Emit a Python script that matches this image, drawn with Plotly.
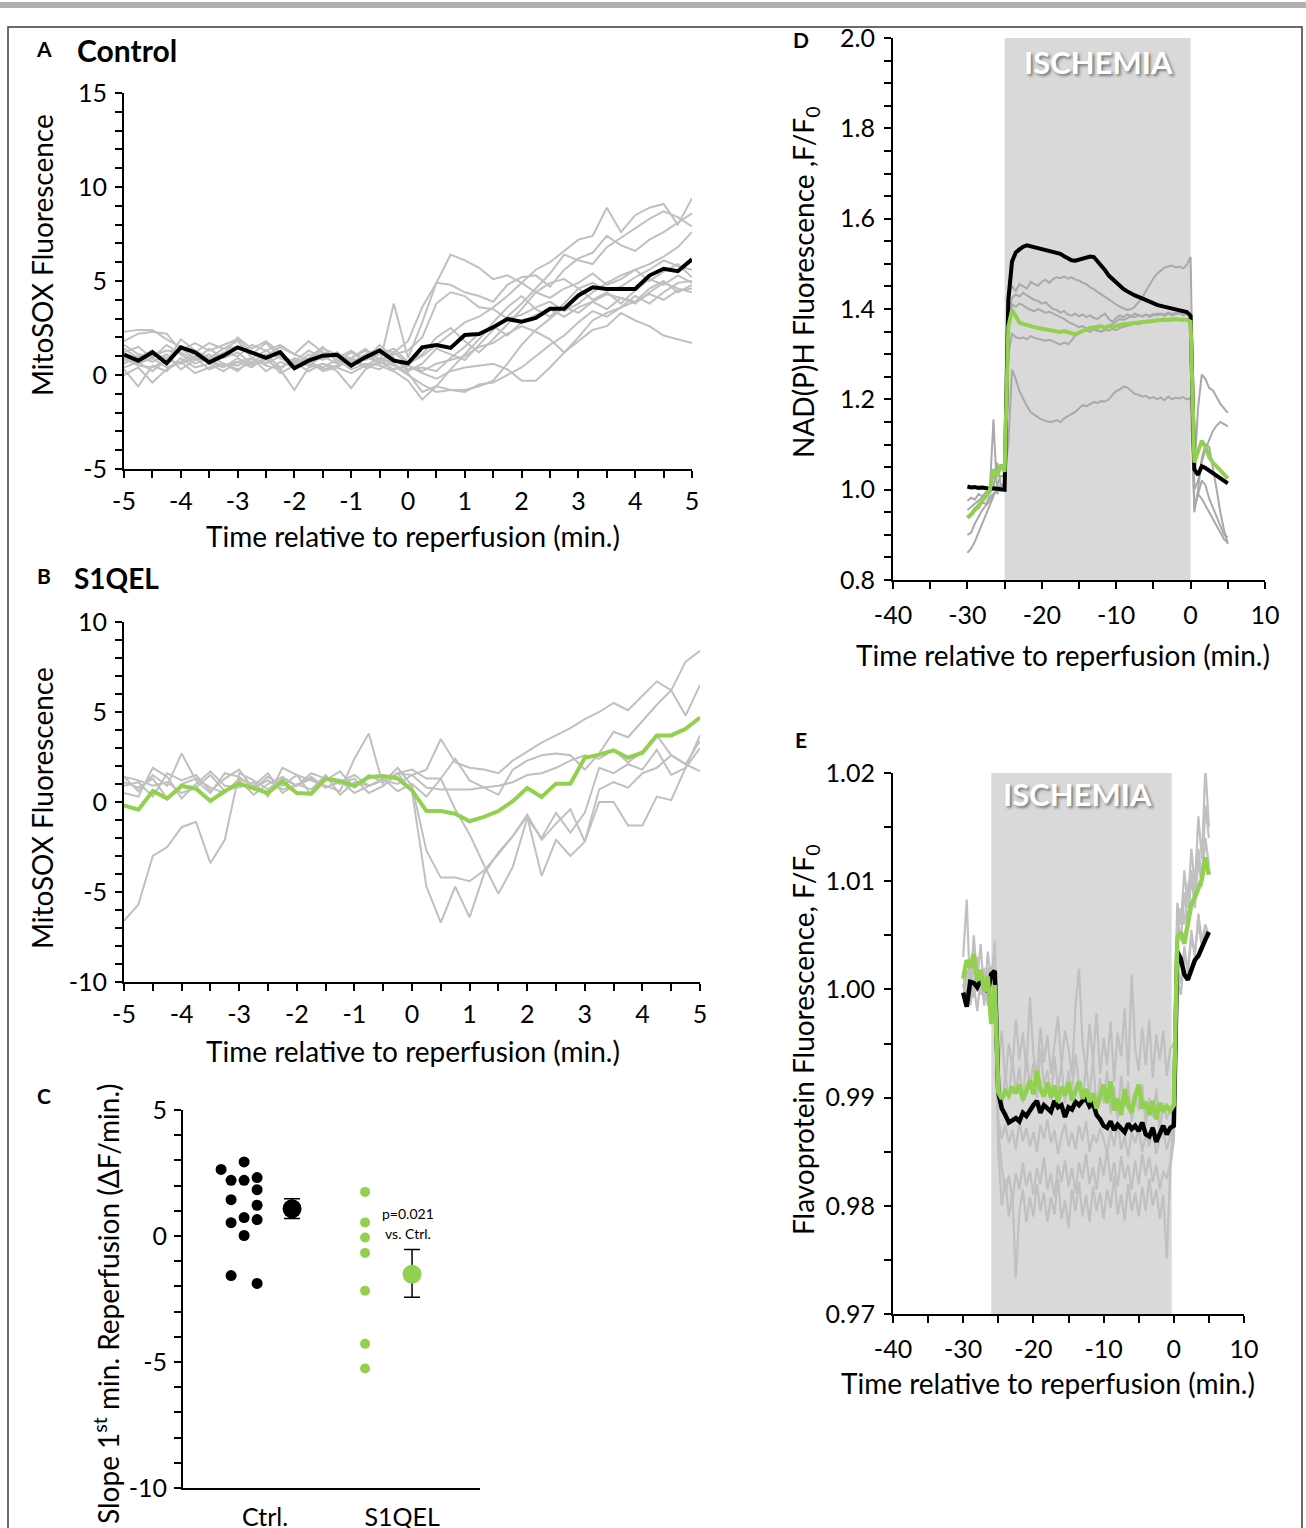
import numpy as np
import plotly.graph_objects as go

W, H = 1306, 1528
FONT = "Lato"
GREEN = "#92d050"
GRAY_A = "#c0c0c0"
GRAY_D = "#a9a9a9"

# ---------------- Panel A: Control (MitoSOX) ----------------
a_time = np.arange(-5, 5.001, 0.25)
a_mean = [1.08, 0.76, 1.21, 0.62, 1.47, 1.21, 0.67, 1.03, 1.47, 1.21, 0.91, 1.21, 0.36, 0.76, 1.03,
          1.08, 0.50, 0.94, 1.30, 0.76, 0.62, 1.47, 1.60, 1.44, 2.13, 2.18, 2.54, 2.98, 2.84, 3.04,
          3.52, 3.52, 4.23, 4.67, 4.58, 4.58, 4.58, 5.29, 5.65, 5.52, 6.15]
a_g1 = [1.8, 2.2, 2.3, 2.2, 1.3, 1.7, 1.3, 1.6, 1.9, 1.2, 1.0, 1.5, 1.1, 0.8, 1.2, 1.0, 0.9, 1.4, 0.8, 1.2, 0.6,
        1.0, 1.6, 2.2, 2.8, 3.1, 3.6, 4.2, 4.9, 5.6, 6.0, 6.6, 7.2, 7.4, 8.9, 7.6, 8.5, 8.9, 9.1, 8.0, 9.4]
a_g2 = [0.8, 0.6, 1.1, 0.9, 1.4, 0.9, 0.7, 1.2, 1.0, 1.6, 1.3, 0.9, 0.5, 1.1, 0.8, 1.2, 0.7, 1.1, 1.4, 1.2, 1.8,
        3.6, 4.9, 6.4, 6.1, 5.7, 5.1, 5.3, 4.9, 4.4, 4.1, 4.6, 4.9, 5.4, 4.8, 5.1, 5.6, 5.0, 5.5, 5.9, 5.2]
a_g3 = [1.2, 1.5, 0.9, 1.6, 1.1, 0.6, 0.9, 1.4, 1.8, 0.9, 1.3, 1.6, 1.1, 0.8, 1.4, 1.1, 0.4, 1.0, 0.6, 3.8, 0.9,
        2.8, 4.9, 4.8, 4.4, 4.2, 3.9, 4.8, 5.2, 5.3, 4.7, 5.6, 6.2, 6.5, 7.4, 6.9, 6.6, 7.2, 7.6, 8.1, 8.6]
a_g4 = [0.4, 0.7, 0.2, 0.8, 0.6, 1.0, 0.7, 0.4, 0.9, 0.5, 0.8, 0.3, 0.9, 0.6, 0.4, 0.8, 0.3, 0.6, 0.5, 0.2, -0.3,
        -1.3, -0.6, -0.8, -0.9, -0.5, -0.4, 0.0, 0.4, 1.0, 1.6, 2.1, 2.8, 3.4, 3.1, 3.6, 3.9, 4.3, 4.0, 4.5, 4.6]
a_g5 = [0.9, 0.5, 0.4, 0.8, 0.6, 0.9, 0.3, 0.6, 0.5, 0.9, 0.2, 0.7, 0.4, 0.6, 0.3, 0.5, 0.8, 0.4, 0.7, 0.3, 0.5,
        0.2, 0.6, 0.8, 1.0, 1.5, 1.7, 2.2, 2.6, 2.3, 1.9, 1.2, 1.8, 2.4, 2.6, 3.3, 2.9, 2.6, 2.1, 1.9, 1.7]
a_g6 = [1.0, 0.6, 0.9, 0.4, 0.7, 1.2, 0.8, 0.5, 0.7, 0.9, 0.6, 1.0, 0.7, 0.2, 0.6, 0.4, 0.9, 0.5, 0.3, 0.8, 0.5,
        0.1, -0.2, 0.2, 0.4, 0.5, 0.6, 0.3, -0.3, -0.3, 0.4, 1.2, 2.0, 2.9, 3.3, 3.6, 4.2, 3.8, 4.4, 4.9, 5.0]
a_g7 = [2.3, 2.4, 2.4, 1.9, 1.5, 1.2, 1.7, 1.4, 1.5, 1.1, 1.7, 1.0, 0.7, 1.3, 0.9, 1.2, 0.5, 1.0, 0.7, 1.1, 1.3,
        2.0, 3.8, 4.4, 4.2, 3.6, 3.5, 3.0, 3.2, 3.6, 3.9, 3.4, 3.8, 4.4, 4.9, 5.3, 5.6, 5.9, 6.3, 6.8, 7.6]
a_g8 = [0.3, -0.6, 0.5, 0.2, 0.9, 0.4, 0.6, 0.2, 0.7, 0.4, 1.0, 0.1, 0.5, 0.8, 0.2, 0.4, 0.1, 0.5, 0.9, 0.6, 0.1,
        -0.9, -0.6, 0.3, 1.1, 1.9, 2.8, 3.6, 4.2, 3.5, 3.1, 3.8, 4.6, 4.9, 4.5, 4.7, 5.2, 5.6, 6.1, 5.8, 5.6]
a_g9 = [1.4, 0.9, 1.3, 0.7, 1.9, 1.3, 0.9, 1.1, 2.0, 1.4, 1.8, 1.2, 0.6, 0.9, 1.5, 0.7, 1.2, 0.8, 1.6, 0.9, 0.2,
        0.6, 1.4, 1.1, 0.8, 1.6, 2.4, 3.1, 3.8, 4.6, 5.4, 6.4, 6.1, 5.9, 6.8, 7.3, 7.8, 8.3, 8.7, 8.4, 7.9]
a_g10 = [0.0, 0.4, -0.4, 0.3, 0.7, 0.1, 0.4, 0.6, 0.2, 0.9, 0.5, 0.3, -0.8, 0.4, 0.6, 0.2, -0.7, 0.3, 0.7, 0.5, 0.0,
         -0.5, -0.9, -0.8, -0.8, -0.6, -0.3, 0.6, 1.6, 2.4, 3.0, 3.6, 3.3, 3.9, 4.3, 4.1, 3.8, 4.4, 4.9, 4.6, 4.4]
a_g11 = [1.6, 1.1, 1.0, 1.3, 1.2, 0.8, 1.4, 0.9, 1.2, 0.6, 0.9, 1.5, 1.1, 1.8, 1.2, 0.9, 1.3, 0.8, 1.1, 1.4, 0.7,
         1.1, 2.0, 2.5, 1.8, 1.2, 1.9, 2.7, 3.5, 4.4, 4.9, 5.1, 4.6, 4.0, 4.4, 3.8, 4.5, 5.1, 4.8, 5.3, 4.9]
a_g12 = [0.6, 1.0, 0.7, 1.1, 0.3, 0.8, 1.1, 0.6, 0.3, 0.7, 1.1, 0.4, 0.8, 0.5, 1.0, 0.6, 0.9, 1.3, 0.6, 0.9, 0.3,
         0.4, 0.2, 0.9, 1.5, 2.2, 2.6, 2.1, 2.8, 3.2, 3.5, 3.1, 3.6, 3.9, 3.5, 4.1, 3.9, 4.6, 5.0, 4.4, 4.8]
a_grays = [a_g1, a_g2, a_g3, a_g4, a_g5, a_g6, a_g7, a_g8, a_g9, a_g10, a_g11, a_g12]

# ---------------- Panel B: S1QEL (MitoSOX) ----------------
b_time = np.arange(-5, 5.001, 0.25)
b_mean = [-0.19, -0.43, 0.61, 0.19, 0.89, 0.74, 0.06, 0.61, 1.02, 0.78, 0.50, 1.15, 0.50, 0.46, 1.30,
          1.17, 0.89, 1.39, 1.44, 1.31, 0.65, -0.50, -0.50, -0.65, -1.07, -0.83, -0.50, 0.04, 0.78, 0.28,
          1.02, 1.02, 2.46, 2.63, 2.87, 2.46, 2.74, 3.70, 3.70, 4.07, 4.69]
b_k1 = [-6.6, -5.7, -3.0, -2.5, -1.4, -1.1, -3.4, -2.1, 1.6, 1.2, 0.7, 1.3, 0.9, 1.4, 0.8, 1.1, 1.5, 0.9, 1.2, 1.6, 0.6,
        -4.7, -6.7, -4.7, -6.4, -4.0, -2.8, -1.9, -0.7, -2.1, -1.2, -0.4, -2.2, 0.0, 0.0, -1.3, -1.3, 0.3, 0.1, 1.9, 3.0]
b_k2 = [0.9, 1.1, 0.3, 1.6, 1.2, 1.5, 0.6, 1.3, 1.8, 0.7, 1.4, 0.9, 1.5, 0.4, 1.2, 1.7, 0.8, 1.5, 1.1, 1.9, 0.9,
        -2.7, -4.2, -4.2, -4.4, -3.8, -2.9, -1.9, -0.8, -4.1, -2.1, -3.0, -2.2, 0.7, 1.1, 0.8, 1.6, 1.9, 2.6, 2.1, 3.4]
b_k3 = [0.5, 0.3, 1.9, 1.4, 0.2, 1.0, 1.7, 0.9, 0.8, 1.1, 0.3, 1.9, 1.5, 1.2, 0.9, 0.6, 2.4, 3.8, 0.9, 1.6, 1.5,
        1.8, 3.5, 2.2, 1.9, 1.8, 1.6, 2.3, 2.8, 3.3, 3.7, 4.1, 4.6, 5.0, 5.5, 5.1, 5.9, 6.7, 6.2, 7.8, 8.4]
b_k4 = [1.4, 0.6, 1.5, 0.9, 2.7, 1.2, 0.5, 1.6, 1.4, 0.8, 1.2, 0.7, 0.9, 1.6, 1.3, 1.0, 1.3, 0.5, 0.9, 1.6, 1.8,
        1.3, 1.3, 2.4, 1.2, 0.8, 0.4, 1.8, 2.3, 2.6, 2.7, 2.6, 1.8, 2.7, 3.9, 3.6, 4.5, 5.4, 6.2, 4.8, 6.5]
b_k5 = [1.1, 0.8, 1.3, 0.2, 1.0, 1.3, 0.8, 0.5, 1.3, 0.9, 1.6, 0.5, 1.0, 0.7, 1.5, 0.4, 1.1, 0.9, 1.3, 0.6, 1.0,
        0.3, 1.3, -0.4, -1.8, -3.5, -5.1, -3.6, -0.9, -2.0, -0.6, -1.7, -0.6, 1.9, 1.6, 2.1, 1.8, 2.9, 1.5, 1.9, 3.7]
b_k6 = [1.4, 1.2, 0.9, 1.1, 0.5, 0.8, 1.5, 0.6, 1.2, 0.4, 1.0, 1.4, 0.9, 1.3, 0.8, 1.2, 0.5, 0.9, 1.2, 1.0, 1.5,
        0.8, 0.7, 0.7, 0.7, 0.8, 0.9, 1.1, 1.5, 1.6, 1.9, 2.3, 2.6, 2.4, 2.9, 2.2, 2.8, 3.7, 2.6, 2.1, 1.7]
b_grays = [b_k1, b_k2, b_k3, b_k4, b_k5, b_k6]

# ---------------- Panel C: slopes ----------------
c_categories = ["Ctrl.", "S1QEL"]
c_ctrl = [2.64, 2.94, 2.21, 2.21, 2.32, 1.84, 1.44, 1.22, 0.53, 0.73, 0.65, 0.02, -1.57, -1.88]
c_ctrl_col = [0, 2, 1, 2, 3, 3, 1, 3, 1, 2, 3, 2, 1, 3]
c_s1qel = [1.75, 0.54, -0.06, -0.67, -2.17, -4.28, -5.26]
c_means = [1.08, -1.52]
c_err_up = [0.40, 0.98]
c_err_dn = [0.39, 0.91]

# ---------------- Panel D: NAD(P)H ----------------
d_time = np.arange(-30, 5.001, 0.5)
d_black = ([1.007, 1.005, 1.006, 1.004, 1.005, 1.003, 1.002, 1.003, 1.001, 1.001, 1.000] +
           [1.42, 1.505, 1.525, 1.532, 1.538, 1.541, 1.539, 1.537, 1.535, 1.533,
            1.530, 1.529, 1.527, 1.525, 1.522, 1.517, 1.512, 1.508, 1.507, 1.509,
            1.511, 1.513, 1.516, 1.515, 1.506, 1.496, 1.486, 1.474, 1.466, 1.457,
            1.450, 1.444, 1.439, 1.434, 1.430, 1.427, 1.423, 1.419, 1.416, 1.412,
            1.409, 1.407, 1.405, 1.404, 1.402, 1.400, 1.398, 1.396, 1.393, 1.385] +
           [1.045, 1.033, 1.052, 1.048, 1.042, 1.036, 1.030, 1.025, 1.019, 1.014])
d_green = ([0.938, 0.945, 0.955, 0.964, 0.975, 0.985, 0.998, 1.045, 1.030, 1.055, 1.040] +
           [1.36, 1.398, 1.385, 1.370, 1.367, 1.364, 1.362, 1.360, 1.358, 1.357,
            1.354, 1.353, 1.352, 1.350, 1.349, 1.351, 1.348, 1.346, 1.344, 1.348,
            1.352, 1.356, 1.358, 1.359, 1.361, 1.362, 1.358, 1.362, 1.360, 1.363,
            1.365, 1.366, 1.367, 1.368, 1.370, 1.371, 1.372, 1.373, 1.374, 1.375,
            1.375, 1.376, 1.377, 1.376, 1.377, 1.378, 1.376, 1.377, 1.376, 1.372] +
           [1.060, 1.085, 1.108, 1.095, 1.072, 1.060, 1.052, 1.043, 1.035, 1.025])
d_g1 = ([0.975, 0.982, 0.978, 0.990, 0.985, 0.995, 0.992, 1.005, 1.060, 1.010, 1.005] +
        [1.43, 1.45, 1.44, 1.455, 1.45, 1.445, 1.46, 1.455, 1.452, 1.46,
         1.465, 1.458, 1.466, 1.470, 1.468, 1.472, 1.467, 1.470, 1.465, 1.463,
         1.458, 1.455, 1.448, 1.444, 1.438, 1.432, 1.428, 1.420, 1.415, 1.410,
         1.405, 1.402, 1.398, 1.400, 1.405, 1.415, 1.425, 1.440, 1.455, 1.468,
         1.478, 1.486, 1.492, 1.494, 1.496, 1.492, 1.494, 1.490, 1.498, 1.515] +
        [1.04, 1.18, 1.255, 1.245, 1.225, 1.22, 1.205, 1.19, 1.18, 1.17])
d_g2 = ([0.940, 0.948, 0.960, 0.958, 0.972, 0.968, 0.985, 0.990, 1.000, 0.998, 1.002] +
        [1.39, 1.425, 1.432, 1.428, 1.436, 1.430, 1.425, 1.420, 1.418, 1.412,
         1.415, 1.408, 1.400, 1.398, 1.392, 1.395, 1.388, 1.385, 1.390, 1.384,
         1.388, 1.382, 1.386, 1.380, 1.378, 1.385, 1.390, 1.378, 1.372, 1.380,
         1.386, 1.382, 1.388, 1.384, 1.390, 1.386, 1.384, 1.388, 1.382, 1.386,
         1.390, 1.388, 1.385, 1.390, 1.386, 1.388, 1.392, 1.386, 1.390, 1.388] +
        [1.00, 1.02, 1.06, 1.09, 1.11, 1.13, 1.142, 1.150, 1.145, 1.140])
d_g3 = ([0.900, 0.905, 0.925, 0.940, 0.955, 0.965, 0.975, 0.990, 1.000, 1.012, 1.005] +
        [1.30, 1.345, 1.338, 1.335, 1.337, 1.333, 1.340, 1.336, 1.334, 1.333,
         1.330, 1.332, 1.328, 1.325, 1.321, 1.326, 1.322, 1.330, 1.341, 1.345,
         1.350, 1.353, 1.349, 1.355, 1.352, 1.350, 1.354, 1.352, 1.356, 1.353,
         1.358, 1.360, 1.362, 1.365, 1.368, 1.366, 1.370, 1.372, 1.370, 1.373,
         1.375, 1.374, 1.376, 1.378, 1.374, 1.377, 1.376, 1.378, 1.376, 1.375] +
        [0.96, 0.99, 1.02, 1.01, 0.98, 0.96, 0.94, 0.92, 0.90, 0.895])
d_g4 = ([0.860, 0.870, 0.885, 0.905, 0.925, 0.945, 0.965, 0.985, 1.010, 1.030, 1.030] +
        [1.10, 1.266, 1.245, 1.218, 1.200, 1.185, 1.172, 1.165, 1.160, 1.155,
         1.152, 1.150, 1.151, 1.154, 1.150, 1.158, 1.163, 1.168, 1.172, 1.180,
         1.187, 1.185, 1.190, 1.194, 1.192, 1.196, 1.195, 1.200, 1.210, 1.218,
         1.222, 1.228, 1.226, 1.218, 1.212, 1.210, 1.206, 1.208, 1.202, 1.205,
         1.200, 1.204, 1.198, 1.206, 1.200, 1.204, 1.202, 1.205, 1.200, 1.203] +
        [0.96, 0.99, 0.98, 0.965, 0.95, 0.935, 0.92, 0.905, 0.89, 0.883])
d_g5 = ([0.955, 0.962, 0.970, 0.975, 0.982, 0.990, 0.995, 1.155, 0.990, 1.010, 1.008] +
        [1.35, 1.410, 1.405, 1.412, 1.408, 1.402, 1.398, 1.395, 1.400, 1.396,
         1.392, 1.394, 1.390, 1.385, 1.382, 1.378, 1.372, 1.368, 1.365, 1.360,
         1.362, 1.357, 1.360, 1.355, 1.352, 1.350, 1.356, 1.362, 1.368, 1.372,
         1.378, 1.376, 1.380, 1.384, 1.382, 1.386, 1.383, 1.387, 1.385, 1.389,
         1.386, 1.390, 1.388, 1.392, 1.389, 1.391, 1.390, 1.393, 1.392, 1.390] +
        [0.95, 1.00, 1.07, 1.10, 1.095, 1.05, 1.00, 0.95, 0.91, 0.88])
d_grays = [d_g1, d_g2, d_g3, d_g4, d_g5]
d_ischemia = [-25, 0]

# ---------------- Panel E: Flavoprotein ----------------
e_time = np.arange(-30, 5.001, 0.5)
e_black = ([0.9997, 0.9984, 1.0007, 1.0006, 1.0002, 1.0009, 1.0003, 0.9998, 1.0014, 1.0017] +
           [0.9905, 0.9890, 0.9884, 0.9877, 0.9879, 0.9881, 0.9878, 0.9886, 0.9883, 0.9889,
            0.9893, 0.9897, 0.9886, 0.9893, 0.9890, 0.9887, 0.9897, 0.9891, 0.9893, 0.9882,
            0.9891, 0.9889, 0.9896, 0.9893, 0.9897, 0.9899, 0.9892, 0.9895, 0.9884, 0.9880,
            0.9874, 0.9872, 0.9878, 0.9870, 0.9875, 0.9872, 0.9868, 0.9876, 0.9871, 0.9874,
            0.9869, 0.9877, 0.9866, 0.9864, 0.9872, 0.9859, 0.9868, 0.9874, 0.9866, 0.9872,
            0.9874] +
           [1.0035, 1.0028, 1.0014, 1.0009, 1.0018, 1.0027, 1.0031, 1.0040, 1.0046, 1.0053])
e_green = ([1.0010, 1.0027, 1.0020, 1.0033, 1.0008, 1.0018, 0.9998, 1.0012, 0.9968, 1.0004] +
           [0.9905, 0.9899, 0.9906, 0.9902, 0.9910, 0.9904, 0.9912, 0.9898, 0.9906, 0.9916,
            0.9903, 0.9925, 0.9908, 0.9901, 0.9914, 0.9900, 0.9911, 0.9896, 0.9910, 0.9902,
            0.9914, 0.9897, 0.9906, 0.9915, 0.9899, 0.9908, 0.9896, 0.9904, 0.9890, 0.9903,
            0.9912, 0.9895, 0.9915, 0.9888, 0.9899, 0.9884, 0.9908, 0.9893, 0.9886, 0.9902,
            0.9912, 0.9890, 0.9896, 0.9884, 0.9897, 0.9880, 0.9895, 0.9887, 0.9892, 0.9888,
            0.9893] +
           [1.0047, 1.0053, 1.0042, 1.0060, 1.0079, 1.0085, 1.0093, 1.0102, 1.0122, 1.0106])
e_g1 = ([1.0030, 1.0083, 0.9995, 1.0050, 1.0010, 1.0042, 0.9990, 1.0035, 1.0005, 1.0045] +
        [0.9930, 0.9962, 0.9915, 0.9950, 0.9928, 0.9972, 0.9935, 0.9960, 0.9925, 0.9993,
         0.9940, 0.9918, 0.9965, 0.9932, 0.9958, 0.9922, 0.9948, 0.9975, 0.9930, 0.9962,
         0.9945, 0.9920, 0.9985, 1.0019, 0.9950, 0.9925, 0.9968, 0.9935, 0.9978, 0.9922,
         0.9955, 0.9930, 0.9970, 0.9915, 0.9960, 0.9938, 0.9982, 0.9920, 1.0014, 0.9945,
         0.9925, 0.9965, 0.9930, 0.9972, 0.9918, 0.9958, 0.9935, 0.9962, 0.9920, 0.9945,
         0.9950] +
        [1.0080, 1.0060, 1.0110, 1.0075, 1.0130, 1.0095, 1.0160, 1.0120, 1.0206, 1.0150])
e_g2 = ([1.0005, 0.9985, 1.0020, 0.9992, 1.0028, 0.9998, 1.0015, 0.9988, 1.0022, 1.0000] +
        [0.9915, 0.9890, 0.9922, 0.9898, 0.9935, 0.9905, 0.9928, 0.9895, 0.9940, 0.9910,
         0.9932, 0.9900, 0.9945, 0.9912, 0.9925, 0.9898, 0.9938, 0.9908, 0.9930, 0.9895,
         0.9925, 0.9905, 0.9940, 0.9912, 0.9898, 0.9930, 0.9902, 0.9935, 0.9890, 0.9918,
         0.9895, 0.9925, 0.9885, 0.9910, 0.9880, 0.9920, 0.9892, 0.9915, 0.9878, 0.9905,
         0.9888, 0.9912, 0.9875, 0.9900, 0.9882, 0.9908, 0.9870, 0.9895, 0.9880, 0.9890,
         0.9895] +
        [1.0070, 1.0045, 1.0090, 1.0060, 1.0105, 1.0075, 1.0120, 1.0095, 1.0140, 1.0115])
e_g3 = ([0.9995, 1.0010, 0.9985, 1.0005, 0.9980, 1.0012, 0.9990, 1.0008, 0.9978, 0.9995] +
        [0.9880, 0.9862, 0.9875, 0.9858, 0.9870, 0.9852, 0.9878, 0.9860, 0.9872, 0.9855,
         0.9868, 0.9850, 0.9875, 0.9862, 0.9880, 0.9858, 0.9870, 0.9848, 0.9865, 0.9876,
         0.9855, 0.9868, 0.9852, 0.9874, 0.9860, 0.9878, 0.9850, 0.9866, 0.9858, 0.9872,
         0.9862, 0.9848, 0.9870, 0.9855, 0.9876, 0.9852, 0.9864, 0.9845, 0.9868, 0.9858,
         0.9872, 0.9850, 0.9866, 0.9855, 0.9874, 0.9848, 0.9862, 0.9868, 0.9852, 0.9865,
         0.9870] +
        [1.0020, 1.0005, 1.0040, 1.0015, 1.0055, 1.0030, 1.0070, 1.0045, 1.0060, 1.0050])
e_g4 = ([1.0015, 0.9990, 1.0025, 1.0000, 1.0030, 0.9995, 1.0020, 0.9985, 1.0010, 0.9990] +
        [0.9850, 0.9800, 0.9825, 0.9790, 0.9812, 0.9733, 0.9795, 0.9815, 0.9785, 0.9808,
         0.9790, 0.9820, 0.9795, 0.9812, 0.9785, 0.9808, 0.9792, 0.9825, 0.9788, 0.9805,
         0.9780, 0.9815, 0.9795, 0.9822, 0.9790, 0.9810, 0.9785, 0.9818, 0.9795, 0.9812,
         0.9788, 0.9815, 0.9798, 0.9828, 0.9792, 0.9810, 0.9786, 0.9820, 0.9795, 0.9812,
         0.9790, 0.9818, 0.9795, 0.9825, 0.9800, 0.9815, 0.9788, 0.9810, 0.9751, 0.9835,
         0.9860] +
        [1.0010, 0.9995, 1.0030, 1.0020, 1.0045, 1.0035, 1.0060, 1.0040, 1.0055, 1.0048])
e_g5 = ([1.0002, 1.0018, 0.9992, 1.0024, 0.9998, 1.0012, 0.9985, 1.0020, 0.9995, 1.0008] +
        [0.9870, 0.9835, 0.9812, 0.9828, 0.9805, 0.9830, 0.9815, 0.9840, 0.9818, 0.9832,
         0.9810, 0.9835, 0.9820, 0.9845, 0.9815, 0.9830, 0.9808, 0.9838, 0.9822, 0.9842,
         0.9818, 0.9835, 0.9812, 0.9840, 0.9825, 0.9848, 0.9820, 0.9836, 0.9815, 0.9845,
         0.9828, 0.9852, 0.9822, 0.9840, 0.9818, 0.9846, 0.9825, 0.9838, 0.9815, 0.9842,
         0.9820, 0.9848, 0.9828, 0.9845, 0.9822, 0.9838, 0.9815, 0.9832, 0.9825, 0.9840,
         0.9880] +
        [1.0050, 1.0075, 1.0060, 1.0095, 1.0110, 1.0085, 1.0130, 1.0100, 1.0170, 1.0140])
e_grays = [e_g1, e_g2, e_g3, e_g4, e_g5]
e_ischemia = [-26, -0.3]

# tick labels
a_xticks = [-5, -4, -3, -2, -1, 0, 1, 2, 3, 4, 5]
a_xlabels = ["-5", "-4", "-3", "-2", "-1", "0", "1", "2", "3", "4", "5"]
a_yticks = [-5, 0, 5, 10, 15]
a_ylabels = ["-5", "0", "5", "10", "15"]
b_yticks = [-10, -5, 0, 5, 10]
b_ylabels = ["-10", "-5", "0", "5", "10"]
c_yticks = [-10, -5, 0, 5]
c_ylabels = ["-10", "-5", "0", "5"]
d_xticks = [-40, -30, -20, -10, 0, 10]
d_xlabels = ["-40", "-30", "-20", "-10", "0", "10"]
d_yticks = [0.8, 1.0, 1.2, 1.4, 1.6, 1.8, 2.0]
d_ylabels = ["0.8", "1.0", "1.2", "1.4", "1.6", "1.8", "2.0"]
e_yticks = [0.97, 0.98, 0.99, 1.00, 1.01, 1.02]
e_ylabels = ["0.97", "0.98", "0.99", "1.00", "1.01", "1.02"]

# ---------------- Figure ----------------
fig = go.Figure()


def line(x, y, ax, color, width):
    fig.add_trace(go.Scatter(x=list(x), y=y, mode="lines", xaxis="x" + ax, yaxis="y" + ax,
                             line=dict(color=color, width=width), showlegend=False, hoverinfo="skip"))


for g in a_grays:
    line(a_time, g, "", GRAY_A, 2)
line(a_time, a_mean, "", "black", 4)

for g in b_grays:
    line(b_time, g, "2", GRAY_A, 2)
line(b_time, b_mean, "2", GREEN, 4)

# panel C
col_off = [-0.321, -0.248, -0.153, -0.058]
fig.add_trace(go.Scatter(x=[1 + col_off[c] for c in c_ctrl_col], y=c_ctrl, mode="markers",
                         xaxis="x3", yaxis="y3", marker=dict(color="black", size=11),
                         showlegend=False, hoverinfo="skip"))
fig.add_trace(go.Scatter(x=[2 - 0.27] * len(c_s1qel), y=c_s1qel, mode="markers",
                         xaxis="x3", yaxis="y3", marker=dict(color=GREEN, size=10),
                         showlegend=False, hoverinfo="skip"))
mean_off = [0.197, 0.073]
for i, colr in enumerate(["black", GREEN]):
    fig.add_trace(go.Scatter(x=[i + 1 + mean_off[i]], y=[c_means[i]], mode="markers",
                             xaxis="x3", yaxis="y3", marker=dict(color=colr, size=19),
                             error_y=dict(type="data", array=[c_err_up[i]], arrayminus=[c_err_dn[i]],
                                          color="black", thickness=1.5, width=8),
                             showlegend=False, hoverinfo="skip"))

for g in d_grays:
    line(d_time, g, "4", GRAY_D, 2)
line(d_time, d_black, "4", "black", 4)
line(d_time, d_green, "4", GREEN, 4)

for g in e_grays:
    line(e_time, g, "5", GRAY_A, 2.2)
line(e_time, e_black, "5", "black", 4.5)
line(e_time, e_green, "5", GREEN, 4.5)


def dom_x(a, b):
    return [a / W, b / W]


def dom_y(top, bottom):
    return [1 - bottom / H, 1 - top / H]


def axis(domain, rng, anchor, tickvals=None, ticktext=None, minor=None, ticks="outside", standoff=8):
    d = dict(domain=domain, range=rng, anchor=anchor, showline=True, linecolor="black", linewidth=2,
             ticks=ticks, ticklen=7, tickwidth=2, tickcolor="black", showgrid=False, zeroline=False,
             automargin=False, fixedrange=True, ticklabelstandoff=standoff,
             tickfont=dict(family=FONT, size=25, color="black"))
    if tickvals is not None:
        d.update(tickmode="array", tickvals=tickvals, ticktext=ticktext)
    if minor is not None:
        d["minor"] = dict(tickmode="array", tickvals=list(minor), ticks="outside", ticklen=7,
                          tickwidth=2, tickcolor="black", showgrid=False)
    return d


XS, YS = 2, 3
fig.update_layout(
    width=W, height=H, autosize=False,
    margin=dict(l=0, r=0, t=0, b=0),
    paper_bgcolor="white", plot_bgcolor="rgba(0,0,0,0)",
    font=dict(family=FONT, color="black"),
    xaxis=axis(dom_x(124, 692), [-5, 5], "y", a_xticks, a_xlabels, np.arange(-5, 5.01, 0.5), standoff=XS),
    yaxis=axis(dom_y(93, 469), [-5, 15], "x", a_yticks, a_ylabels, np.arange(-5, 15.01, 1), standoff=YS),
    xaxis2=axis(dom_x(124, 700), [-5, 5], "y2", a_xticks, a_xlabels, np.arange(-5, 5.01, 0.5), standoff=XS),
    yaxis2=axis(dom_y(622, 982), [-10, 10], "x2", b_yticks, b_ylabels, np.arange(-10, 10.01, 1), standoff=YS),
    xaxis3=axis(dom_x(183, 480), [0.401, 2.569], "y3", [1, 2], c_categories, None, ticks="", standoff=6),
    yaxis3=axis(dom_y(1110, 1488), [-10, 5], "x3", c_yticks, c_ylabels, np.arange(-10, 5.01, 1), standoff=2),
    xaxis4=axis(dom_x(893, 1265), [-40, 10], "y4", d_xticks, d_xlabels, np.arange(-40, 10.01, 5), standoff=XS + 3),
    yaxis4=axis(dom_y(38, 580), [0.8, 2.0], "x4", d_yticks, d_ylabels, np.arange(0.8, 2.001, 0.05), standoff=YS + 1),
    xaxis5=axis(dom_x(893, 1244), [-40, 10], "y5", d_xticks, d_xlabels, np.arange(-40, 10.01, 5), standoff=XS + 3),
    yaxis5=axis(dom_y(773, 1314), [0.97, 1.02], "x5", e_yticks, e_ylabels, np.arange(0.97, 1.0201, 0.005), standoff=YS + 1),
)

shapes = [
    dict(type="rect", xref="paper", yref="paper", x0=0, x1=1, y0=1 - 8 / H, y1=1 - 2 / H,
         fillcolor="#b0b0b0", line=dict(width=0), layer="below"),
    dict(type="rect", xref="paper", yref="paper", x0=8 / W, x1=1302 / W, y0=-0.05, y1=1 - 27 / H,
         fillcolor="rgba(0,0,0,0)", line=dict(color="#3a3a3a", width=1.5), layer="below"),
    dict(type="rect", xref="x4", yref="y4", x0=d_ischemia[0], x1=d_ischemia[1], y0=0.8, y1=2.0,
         fillcolor="#d9d9d9", line=dict(width=0), layer="below"),
    dict(type="rect", xref="x5", yref="y5", x0=e_ischemia[0], x1=e_ischemia[1], y0=0.97, y1=1.02,
         fillcolor="#d9d9d9", line=dict(width=0), layer="below"),
]
fig.update_layout(shapes=shapes)


def ann(text, x, y, size, xanchor="center", angle=0, color="black", weight="normal", shadow=None):
    f = dict(family=FONT, size=size, color=color, weight=weight)
    if shadow:
        f["shadow"] = shadow
    return dict(text=text, x=x / W, y=1 - y / H, xref="paper", yref="paper", showarrow=False,
                xanchor=xanchor, yanchor="middle", textangle=angle, font=f)


xt = "Time relative to reperfusion (min.)"
annotations = [
    ann("A", 44, 48, 21, weight="bold"),
    ann("Control", 75, 50, 30, xanchor="left", weight="bold"),
    ann("B", 44, 576, 21, weight="bold"),
    ann("S1QEL", 72, 578, 28, xanchor="left", weight="bold"),
    ann("C", 44, 1095, 21, weight="bold"),
    ann("D", 801, 40, 21, weight="bold"),
    ann("E", 801, 740, 21, weight="bold"),
    ann(xt, 413, 536, 28),
    ann(xt, 413, 1051, 28),
    ann(xt, 1063, 655, 28),
    ann(xt, 1048, 1383, 28),
    ann("MitoSOX Fluorescence", 42, 255, 28, angle=-90),
    ann("MitoSOX Fluorescence", 42, 808, 28, angle=-90),
    ann("Slope 1<sup>st</sup> min. Reperfusion (ΔF/min.)", 106, 1304, 28, angle=-90),
    ann("NAD(P)H Fluorescence ,F/F<sub>0</sub>", 805, 282, 28, angle=-90),
    ann("Flavoprotein Fluorescence, F/F<sub>0</sub>", 805, 1040, 28, angle=-90),
    ann("p=0.021", 408, 1213, 14),
    ann("vs. Ctrl.", 408, 1233, 14),
    ann("ISCHEMIA", 1098, 62, 31, color="white", weight="bold", shadow="2px 2px 3px rgba(0,0,0,0.45)"),
    ann("ISCHEMIA", 1077, 794, 31, color="white", weight="bold", shadow="2px 2px 3px rgba(0,0,0,0.45)"),
]
fig.update_layout(annotations=annotations)

fig.write_html("out.html", config={"displayModeBar": False},
               post_script="document.body.style.margin='0px';document.body.style.overflow='hidden';")
